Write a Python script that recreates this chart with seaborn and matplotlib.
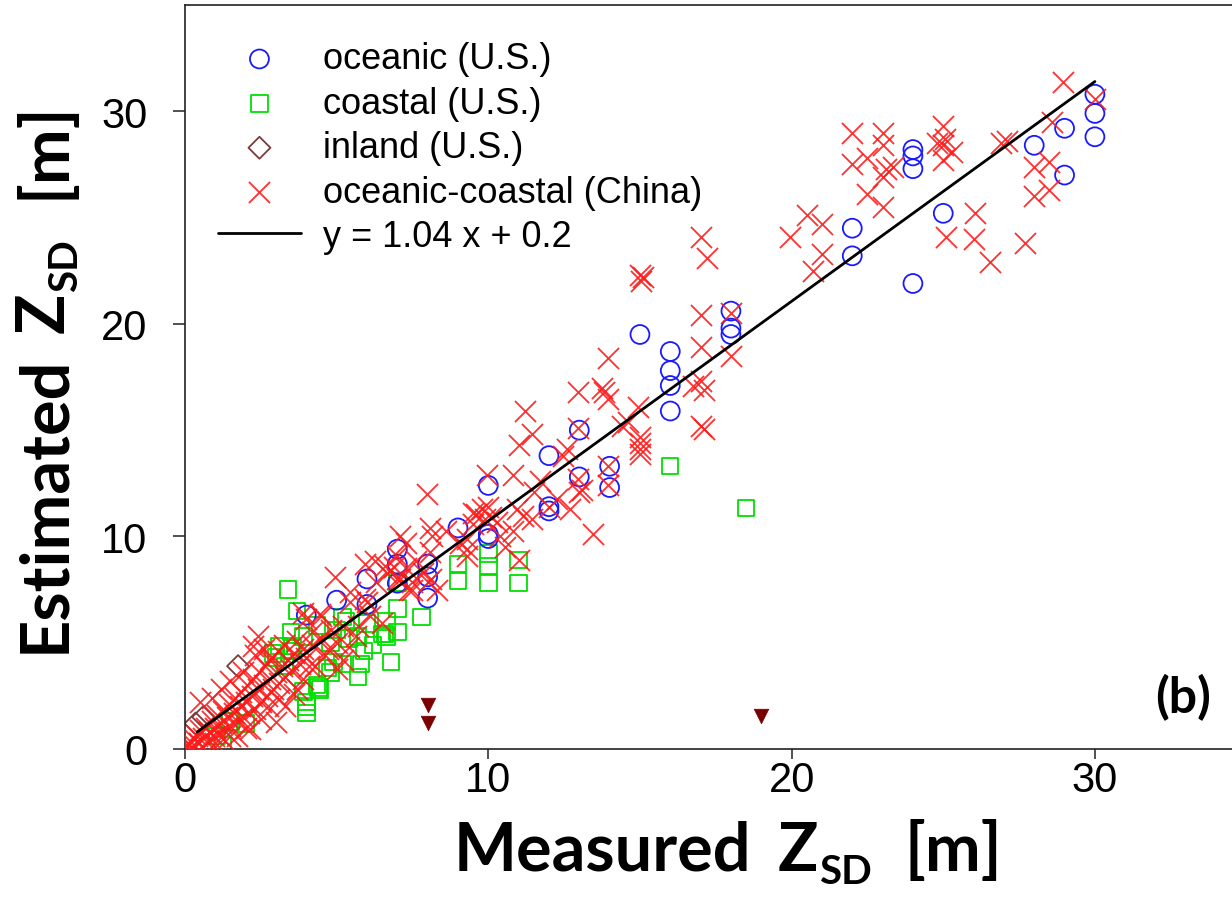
import matplotlib
matplotlib.use("Agg")
import matplotlib.pyplot as plt
from matplotlib.transforms import IdentityTransform
import seaborn as sns

# ---------------- data ----------------
oceanic_x = [30, 30, 30, 29, 29, 28, 25, 24, 24, 24, 24, 22, 22, 18, 18, 18,
             16, 16, 16, 16, 15, 14, 14, 13, 13, 12, 12, 12, 10, 10, 10, 9,
             8, 8, 8, 7, 7, 7, 6, 6, 5, 4]
oceanic_y = [30.8, 29.9, 28.8, 29.2, 27.0, 28.4, 25.2, 28.2, 27.9, 27.3, 21.9, 24.5, 23.2, 20.6, 19.8, 19.5,
             18.7, 17.8, 17.1, 15.9, 19.5, 13.3, 12.3, 15.0, 12.8, 13.8, 11.4, 11.2, 12.4, 10.1, 9.9, 10.4,
             8.7, 8.1, 7.1, 9.4, 8.7, 7.8, 8.0, 6.8, 7.0, 6.3]

coastal_x = [16.0, 18.5, 11.0, 11.0, 10.0, 10.0, 10.0, 9.0, 9.0, 7.8, 7.0, 6.6, 7.0, 6.8, 6.65,
             5.7, 5.8, 5.7, 5.3, 5.2, 4.8, 4.4, 4.0, 4.0, 4.0, 7.0, 3.4, 3.7, 4.45, 4.8,
             5.2, 5.4, 6.5, 6.65, 6.0, 5.0, 4.35, 3.9, 3.55, 3.1, 3.9, 4.35, 4.7, 4.9,
             3.5, 3.5, 1.05, 1.25, 3.0, 3.3, 2.9, 6.2, 5.9, 1.5, 2.0]
coastal_y = [13.3, 11.35, 7.8, 8.9, 7.8, 8.6, 9.2, 7.9, 8.7, 6.2, 6.6, 5.4, 5.5, 4.1, 5.3,
             5.3, 4.0, 3.4, 6.0, 4.0, 5.0, 2.9, 2.2, 1.7, 2.0, 7.8, 7.5, 6.5, 2.8, 3.6,
             6.2, 5.2, 5.4, 6.0, 5.9, 5.6, 5.8, 5.3, 4.85, 4.85, 2.7, 3.0, 3.8, 4.1,
             5.5, 4.6, 0.6, 0.2, 4.3, 3.9, 4.5, 4.9, 4.6, 1.3, 1.2]

inland_x = [1.75, 0.35, 0.6]
inland_y = [3.9, 1.2, 1.5]

china_x = [
    # upper range
    22.0, 23.0, 25.0, 25.05, 24.8, 22.0, 22.5, 23.0, 23.1, 23.0, 23.35, 22.5, 23.0, 25.0, 25.3, 25.0,
    26.9, 27.1, 28.0, 28.5, 28.0, 28.5, 28.6, 30.0, 28.95, 26.05, 25.1, 26.0, 26.55, 27.7,
    19.95, 20.5, 21.0, 21.0, 20.7,
    # middle range
    17.0, 17.2, 15.0, 15.05, 15.1, 17.0, 18.0, 17.0, 18.0, 13.95, 12.97, 13.75, 13.8, 13.95, 14.95,
    17.0, 16.75, 17.1, 17.0, 17.1, 12.97, 14.4, 15.0, 15.0, 12.6,
    11.2, 11.0, 11.45, 14.6, 15.0, 15.0, 9.95, 10.8, 12.45, 13.95, 13.95, 13.1, 12.97, 11.7, 11.5,
    12.25, 12.0, 10.95, 11.15, 11.45, 10.8, 9.8, 10.1, 9.6, 9.5, 10.3, 9.3, 10.4, 13.45, 10.55, 9.3,
    11.0, 12.7, 13.0,
    # lower-middle range
    7.98, 4.95, 5.93, 6.26, 7.09, 7.3, 8.08, 8.15, 8.6, 7.0, 7.1, 7.5, 7.5, 8.0, 9.07, 9.3, 9.5, 9.9,
    10.0, 5.93, 5.45, 4.45, 3.9, 6.6, 6.9, 7.85, 8.08, 7.6,
    4.0, 4.5, 2.8, 2.4, 2.25, 3.9, 4.1, 3.7, 3.1, 2.75, 3.0, 2.15, 1.7, 1.25, 0.6, 0.16, 5.0, 5.2,
    5.7, 6.0, 6.3, 6.65, 7.3, 7.4, 6.1, 6.5, 7.0, 8.1, 8.3, 5.45, 4.2, 4.7, 5.65,
    # dense core
    0.05, 0.1, 0.2, 0.25, 0.3, 0.4, 0.45, 0.5, 0.6, 0.7, 0.75, 0.8, 0.9, 0.95, 1.0, 1.05, 1.1, 1.2,
    1.25, 1.3, 1.4, 1.45, 1.5, 1.6, 1.65, 1.7, 1.8, 1.85, 1.9, 2.0, 2.05, 2.1, 2.2, 2.25, 2.3, 2.4,
    2.45, 2.5, 2.6, 2.65, 2.7, 2.8, 2.85, 2.9, 3.0, 3.05, 3.1, 3.2, 3.25, 3.3, 3.4, 3.5, 3.6, 3.7,
    3.8, 3.9, 4.0, 4.2, 4.3, 4.5, 4.6, 4.8, 5.0, 5.2, 5.4, 0.5, 0.9, 1.2, 1.5, 1.9, 2.3, 1.0, 1.5,
    2.0, 2.5, 3.3, 3.6, 2.6]
china_y = [
    29.0, 29.0, 29.3, 28.7, 28.5, 27.5, 27.8, 28.4, 27.3, 26.9, 27.4, 26.1, 25.5, 27.7, 28.1, 28.4,
    28.5, 28.6, 27.4, 27.6, 26.0, 26.3, 29.5, 30.6, 31.4, 25.2, 24.1, 24.0, 22.9, 23.8,
    24.1, 25.1, 24.7, 23.3, 22.5,
    24.1, 23.1, 22.3, 22.0, 22.2, 20.4, 20.5, 18.9, 18.5, 18.4, 16.8, 17.0, 16.8, 16.45, 16.1,
    17.3, 17.1, 16.9, 15.2, 15.05, 15.1, 15.2, 14.7, 14.1, 14.1,
    15.9, 14.3, 14.8, 15.4, 14.4, 13.9, 12.9, 12.9, 13.8, 13.3, 12.4, 12.2, 12.7, 12.6, 12.1,
    11.75, 11.4, 11.3, 10.95, 10.8, 10.25, 11.3, 10.9, 11.05, 10.6, 10.7, 9.9, 10.0, 10.1, 9.5, 9.1,
    8.9, 11.3, 12.1,
    12.0, 8.1, 8.7, 8.85, 10.0, 9.7, 10.4, 10.0, 10.25, 9.1, 8.0, 7.85, 7.5, 7.85, 9.7, 9.4, 11.1, 10.8,
    11.4, 7.05, 7.4, 6.35, 6.4, 8.6, 8.55, 8.3, 9.25, 8.85,
    6.1, 6.25, 4.2, 5.3, 4.85, 3.3, 3.9, 2.8, 2.35, 2.0, 1.25, 0.95, 0.6, 0.45, 0.1, 0.0, 3.76, 4.2,
    5.8, 6.9, 7.85, 8.3, 8.5, 7.5, 6.25, 5.95, 8.0, 8.0, 7.5, 6.9, 5.5, 4.7, 5.3,
    0.1, 0.3, 0.1, 0.5, 0.2, 0.6, 0.3, 0.9, 0.5, 1.0, 0.4, 0.8, 1.3, 0.6, 1.0, 1.6, 0.7, 1.2,
    1.8, 0.9, 1.5, 2.1, 1.1, 1.7, 2.4, 1.3, 2.0, 2.7, 1.5, 2.2, 3.0, 1.7, 2.5, 3.3, 1.9, 2.8,
    3.6, 2.2, 3.0, 3.9, 2.5, 3.3, 4.3, 2.8, 3.6, 4.6, 3.1, 3.9, 4.9, 3.4, 4.2, 3.7, 4.5, 5.1,
    4.0, 4.7, 4.3, 4.9, 3.9, 5.2, 4.4, 5.6, 5.0, 5.8, 4.8, 2.2, 2.4, 2.8, 3.2, 3.6, 4.4, 0.3, 0.6,
    1.0, 1.4, 2.0, 2.6, 4.7]

flag_x = [8.0, 8.0, 19.0]
flag_y = [2.05, 1.2, 1.55]

fit_x = [0.4, 30.0]
fit_y = [0.8, 31.4]

series_labels = ["oceanic (U.S.)", "coastal (U.S.)", "inland (U.S.)",
                 "oceanic-coastal (China)", "y = 1.04 x + 0.2"]
x_ticks = [0, 10, 20, 30]
y_ticks = [0, 10, 20, 30]
xlabel_parts = ["Measured", "Z", "SD", "[m]"]
ylabel_parts = ["Estimated", "Z", "SD", "[m]"]
panel_tag = "(b)"

# ---------------- styling ----------------
sns.set_theme(style="white")
plt.rcParams["font.family"] = ["Liberation Sans", "DejaVu Sans"]
plt.rcParams["text.color"] = "black"
plt.rcParams["axes.labelcolor"] = "black"

W, H = 1232, 912
fig = plt.figure(figsize=(W / 100, H / 100), dpi=100)
ax_left, ax_bottom = 185 / W, 1 - 750 / H
ax_w = 35 * 30.33 / W
ax_h = 744 / H
ax = fig.add_axes([ax_left, ax_bottom, ax_w, ax_h])

sns.scatterplot(x=oceanic_x, y=oceanic_y, marker="o", s=185, color="#1a1aff",
                facecolor="none", edgecolor="#1a1aff", linewidth=1.3,
                label=series_labels[0], ax=ax, zorder=3)
sns.scatterplot(x=coastal_x, y=coastal_y, marker="s", s=140, color="#00e000",
                facecolor="none", edgecolor="#00e000", linewidth=1.3,
                label=series_labels[1], ax=ax, zorder=2)
sns.scatterplot(x=inland_x, y=inland_y, marker="D", s=125, color="#7a3b3b",
                facecolor="none", edgecolor="#7a3b3b", linewidth=1.3,
                label=series_labels[2], ax=ax, zorder=2)
sns.scatterplot(x=china_x, y=china_y, marker="x", s=230, color="#ff1a1a",
                linewidth=1.3, alpha=0.9, label=series_labels[3], ax=ax, zorder=4)
sns.scatterplot(x=flag_x, y=flag_y, marker="v", s=110, color="#7a0000",
                edgecolor="#7a0000", linewidth=0.5, ax=ax, zorder=5, legend=False)
sns.lineplot(x=fit_x, y=fit_y, color="black", linewidth=2.0,
             label=series_labels[4], ax=ax, zorder=6)

ax.set_xlim(0, 35)
ax.set_ylim(0, 35)
ax.set_xticks(x_ticks)
ax.set_yticks(y_ticks)

for side in ["left", "bottom", "top"]:
    ax.spines[side].set_visible(True)
    ax.spines[side].set_color("#222222")
    ax.spines[side].set_linewidth(1.2)
ax.spines["right"].set_visible(False)

ax.tick_params(axis="x", direction="out", length=7, width=1.1, pad=1,
               labelsize=30, colors="#222222", labelcolor="black")
ax.tick_params(axis="y", direction="out", length=9, width=1.1, pad=18,
               labelsize=30, colors="#222222", labelcolor="black")
ax.tick_params(bottom=True, left=True, top=False, right=False)
ax.set_xlabel("")
ax.set_ylabel("")

# ---------------- axis titles with real subscripts ----------------
renderer = fig.canvas.get_renderer()
MAIN, SUB, SUB_DROP = 48, 29, 13


def _adv(s, size):
    t = fig.text(0, 0, s, fontsize=size, fontweight="bold", family="Lato",
                 transform=IdentityTransform())
    w = t.get_window_extent(renderer).width
    t.remove()
    return w


def compound_label(parts, center, base, vertical, gap_word, gap_sub):
    word, z, sub, unit = parts
    pieces = [(word, MAIN, 0, gap_word), (z, MAIN, 0, 1),
              (sub, SUB, SUB_DROP, gap_sub), (unit, MAIN, 0, 0)]
    advs = [_adv(p[0], p[1]) for p in pieces]
    total = sum(advs) + sum(p[3] for p in pieces)
    pos = center - total / 2
    for (s, size, drop, gap), a in zip(pieces, advs):
        if vertical:
            fig.text(base + drop, pos, s, fontsize=size, fontweight="bold",
                     family="Lato", rotation=90, rotation_mode="anchor",
                     ha="left", va="baseline", transform=IdentityTransform())
        else:
            fig.text(pos, base - drop, s, fontsize=size, fontweight="bold",
                     family="Lato", ha="left", va="baseline",
                     transform=IdentityTransform())
        pos += a + gap


compound_label(xlabel_parts, center=728, base=H - 871, vertical=False,
               gap_word=26, gap_sub=33)
compound_label(ylabel_parts, center=H - 377, base=64, vertical=True,
               gap_word=22, gap_sub=40)

ax.text(0.94, 0.071, panel_tag, transform=ax.transAxes, fontsize=36, fontweight="bold",
        family="Lato", ha="center", va="center")

handles, labels = ax.get_legend_handles_labels()
order = [labels.index(l) for l in series_labels]
leg = ax.legend([handles[i] for i in order], [labels[i] for i in order],
                loc="upper left", bbox_to_anchor=(0.031, 0.951), frameon=False,
                fontsize=26, labelspacing=0.26, handlelength=2.3, handletextpad=0.6,
                borderpad=0, borderaxespad=0)
for t in leg.get_texts():
    t.set_color("black")

fig.savefig("out.png", dpi=100)
